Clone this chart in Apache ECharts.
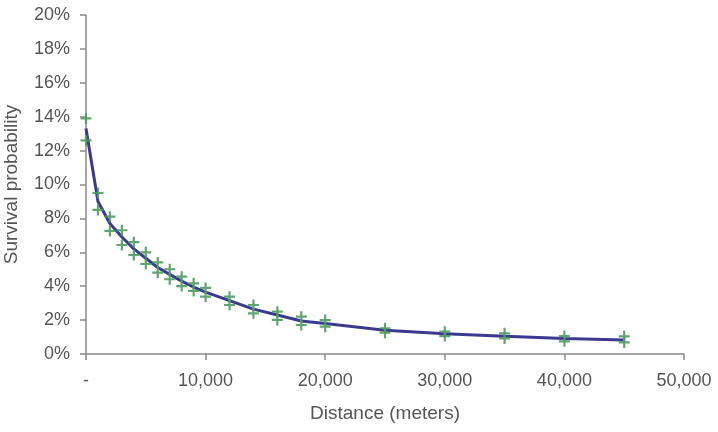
<!DOCTYPE html>
<html>
<head>
<meta charset="utf-8">
<script src="https://cdn.jsdelivr.net/npm/echarts@6/dist/echarts.min.js"></script>
<style>html,body{margin:0;padding:0;background:#fff}#c{width:718px;height:432px}</style>
</head>
<body>
<div id="c"></div>
<script>
var distances = [0, 1000, 2000, 3000, 4000, 5000, 6000, 7000, 8000, 9000, 10000, 12000, 14000, 16000, 18000, 20000, 25000, 30000, 35000, 40000, 45000];
var upperPoints = [13.9, 9.5, 8.1, 7.3, 6.6, 6.0, 5.4, 5.0, 4.56, 4.17, 3.9, 3.38, 2.89, 2.5, 2.2, 2.0, 1.52, 1.32, 1.22, 1.06, 1.04];
var lowerPoints = [12.6, 8.5, 7.26, 6.43, 5.84, 5.31, 4.8, 4.41, 4.01, 3.72, 3.38, 2.89, 2.4, 2.01, 1.71, 1.61, 1.26, 1.06, 0.92, 0.75, 0.68];
var fittedCurve = [13.3, 9.0, 7.7, 6.9, 6.2, 5.65, 5.1, 4.7, 4.3, 3.95, 3.65, 3.15, 2.65, 2.3, 1.95, 1.8, 1.4, 1.2, 1.05, 0.92, 0.83];
var xTickLabels = {0: '-', 10000: '10,000', 20000: '20,000', 30000: '30,000', 40000: '40,000', 50000: '50,000'};

function pairs(ys) { return distances.map(function (d, i) { return [d, ys[i]]; }); }
var plus = 'path://M4,0H6V4H10V6H6V10H4V6H0V4H4Z';
var font = 'Liberation Sans, Arial, sans-serif';
var chart = echarts.init(document.getElementById('c'));
chart.setOption({
  animation: false,
  grid: { left: 86, right: 34, top: 15, bottom: 78, containLabel: false, outerBoundsMode: 'none' },
  xAxis: {
    type: 'value', min: 0, max: 50000, interval: 10000,
    name: 'Distance (meters)', nameLocation: 'middle', nameGap: 50,
    nameTextStyle: { fontFamily: font, fontSize: 19, color: '#555' },
    axisLine: { lineStyle: { color: '#8a8a8a', width: 1.5 } },
    axisTick: { show: true, length: 6, lineStyle: { color: '#8a8a8a', width: 1.5 } },
    splitLine: { show: false },
    axisLabel: { fontFamily: font, fontSize: 18, color: '#555', margin: 18,
      formatter: function (v) { return xTickLabels[v] !== undefined ? xTickLabels[v] : ''; } }
  },
  yAxis: {
    type: 'value', min: 0, max: 20, interval: 2,
    name: 'Survival probability', nameLocation: 'middle', nameGap: 65,
    nameTextStyle: { fontFamily: font, fontSize: 19, color: '#555' },
    axisLine: { show: true, lineStyle: { color: '#8a8a8a', width: 1.5 } },
    axisTick: { show: true, length: 6, lineStyle: { color: '#8a8a8a', width: 1.5 } },
    splitLine: { show: false },
    axisLabel: { fontFamily: font, fontSize: 18, color: '#555', margin: 16,
      formatter: function (v) { return v + '%'; } }
  },
  series: [
    { type: 'line', data: pairs(fittedCurve), showSymbol: false, smooth: false,
      lineStyle: { color: '#3b3a8f', width: 3 }, z: 2 },
    { type: 'scatter', data: pairs(upperPoints), symbol: plus, symbolSize: 11,
      itemStyle: { color: '#4f9a62', opacity: 0.9 }, z: 3 },
    { type: 'scatter', data: pairs(lowerPoints), symbol: plus, symbolSize: 11,
      itemStyle: { color: '#4f9a62', opacity: 0.9 }, z: 3 }
  ]
});
</script>
</body>
</html>
